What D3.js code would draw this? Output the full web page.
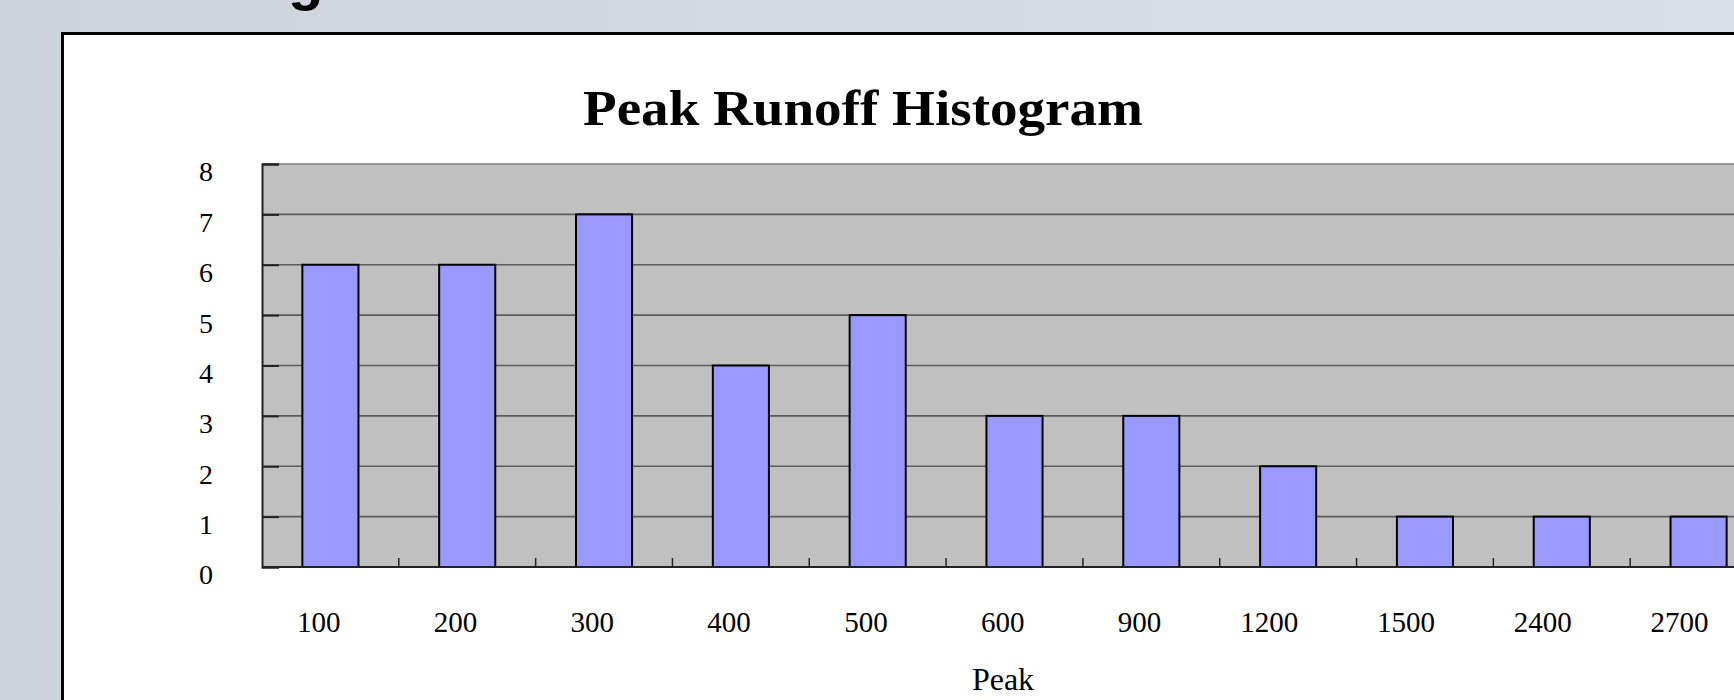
<!DOCTYPE html>
<html>
<head>
<meta charset="utf-8">
<script src="https://cdn.jsdelivr.net/npm/d3@7"></script>
<style>
  html, body { margin: 0; padding: 0; background: #d7dce5; }
  svg { display: block; }
</style>
</head>
<body>
<script>
// histogram bins and counts
const bins = ["100", "200", "300", "400", "500", "600", "900", "1200", "1500", "2400", "2700"];
const counts = [6, 6, 7, 4, 5, 3, 3, 2, 1, 1, 1];
const yTicks = [0, 1, 2, 3, 4, 5, 6, 7, 8];
const chartTitle = "Peak Runoff Histogram";
const xTitle = "Peak";

const width = 1734, height = 700;
const plot = {left: 262, top: 164, right: 1767, bottom: 567};

const svg = d3.select("body")
  .append("svg")
  .attr("width", width)
  .attr("height", height);

const grad = svg.append("defs").append("linearGradient")
  .attr("id", "bg")
  .attr("x1", "0").attr("x2", "1").attr("y1", "0").attr("y2", "0");
grad.append("stop").attr("offset", "0").attr("stop-color", "#cdd4de");
grad.append("stop").attr("offset", "1").attr("stop-color", "#dadee6");

svg.append("rect")
  .attr("width", width)
  .attr("height", height)
  .attr("fill", "url(#bg)");

// slide heading, only the descender shows above the frame
svg.append("text")
  .attr("x", 288)
  .attr("y", -1)
  .style("font-family", "Liberation Sans, Arial, sans-serif")
  .style("font-weight", "bold")
  .style("font-size", "58px")
  .style("fill", "#000")
  .text("g");

// chart frame
svg.append("rect")
  .attr("x", 62.5)
  .attr("y", 33.5)
  .attr("width", width + 20)
  .attr("height", height + 20)
  .attr("fill", "#fff")
  .attr("stroke", "#000")
  .attr("stroke-width", 3);

const x = d3.scaleBand()
  .domain(bins)
  .range([plot.left, plot.right])
  .padding(0);

const y = d3.scaleLinear()
  .domain([0, 8])
  .range([plot.bottom, plot.top]);

const barWidth = x.bandwidth() * 0.41;

svg.append("rect")
  .attr("x", plot.left)
  .attr("y", plot.top)
  .attr("width", plot.right - plot.left + 40)
  .attr("height", plot.bottom - plot.top)
  .attr("fill", "#c0c0c0");

// gridlines
svg.append("g")
  .selectAll("line")
  .data(yTicks.filter(d => d > 0))
  .enter()
  .append("line")
  .attr("x1", plot.left)
  .attr("x2", width)
  .attr("y1", d => y(d))
  .attr("y2", d => y(d))
  .attr("stroke", d => d === 8 ? "#808080" : "#5c5c5c")
  .attr("stroke-width", 1.6);

// y axis
const yAxis = d3.axisLeft(y)
  .tickValues(yTicks)
  .tickSize(-17)
  .tickFormat(d3.format("d"));

const yg = svg.append("g")
  .attr("transform", "translate(" + plot.left + ",0)")
  .call(yAxis);

yg.select(".domain")
  .attr("stroke", "#222")
  .attr("stroke-width", 2);
yg.selectAll(".tick line")
  .attr("stroke", "#222")
  .attr("stroke-width", 2);
yg.selectAll(".tick text")
  .attr("x", 206 - plot.left)
  .attr("y", 8)
  .attr("text-anchor", "middle")
  .style("font-family", "Liberation Serif, Times New Roman, serif")
  .style("font-size", "28px")
  .style("fill", "#000");

// bars
svg.append("g")
  .selectAll("rect")
  .data(bins)
  .enter()
  .append("rect")
  .attr("x", (d) => x(d) + (x.bandwidth() - barWidth) / 2)
  .attr("y", (d, i) => y(counts[i]))
  .attr("width", barWidth)
  .attr("height", (d, i) => y(0) - y(counts[i]))
  .attr("fill", "#9999ff")
  .attr("stroke", "#000")
  .attr("stroke-width", 2);

// x axis baseline and category boundary ticks
svg.append("line")
  .attr("x1", plot.left)
  .attr("x2", width)
  .attr("y1", y(0))
  .attr("y2", y(0))
  .attr("stroke", "#222")
  .attr("stroke-width", 2);

svg.append("g")
  .selectAll("line")
  .data(bins.slice(1))
  .enter()
  .append("line")
  .attr("x1", d => x(d))
  .attr("x2", d => x(d))
  .attr("y1", y(0))
  .attr("y2", y(0) - 9)
  .attr("stroke", "#222")
  .attr("stroke-width", 1.5);

const xAxis = d3.axisBottom(x)
  .tickSize(0)
  .tickPadding(46);

const xg = svg.append("g")
  .attr("transform", "translate(0," + y(0) + ")")
  .call(xAxis);

xg.select(".domain").remove();
// labels in the original sit right-aligned just past the bar centre
xg.selectAll(".tick text")
  .attr("text-anchor", "end")
  .attr("x", 10)
  .attr("y", 65)
  .attr("dy", 0)
  .style("font-family", "Liberation Serif, Times New Roman, serif")
  .style("font-size", "29px")
  .style("fill", "#000");

// titles
svg.append("text")
  .attr("x", 863)
  .attr("y", 125)
  .attr("text-anchor", "middle")
  .attr("textLength", 560)
  .attr("lengthAdjust", "spacingAndGlyphs")
  .style("font-family", "Liberation Serif, serif")
  .style("font-weight", "bold")
  .style("font-size", "50px")
  .text(chartTitle);

svg.append("text")
  .attr("x", 1003)
  .attr("y", 690)
  .attr("text-anchor", "middle")
  .style("font-family", "Liberation Serif, serif")
  .style("font-size", "32px")
  .text(xTitle);
</script>
</body>
</html>
